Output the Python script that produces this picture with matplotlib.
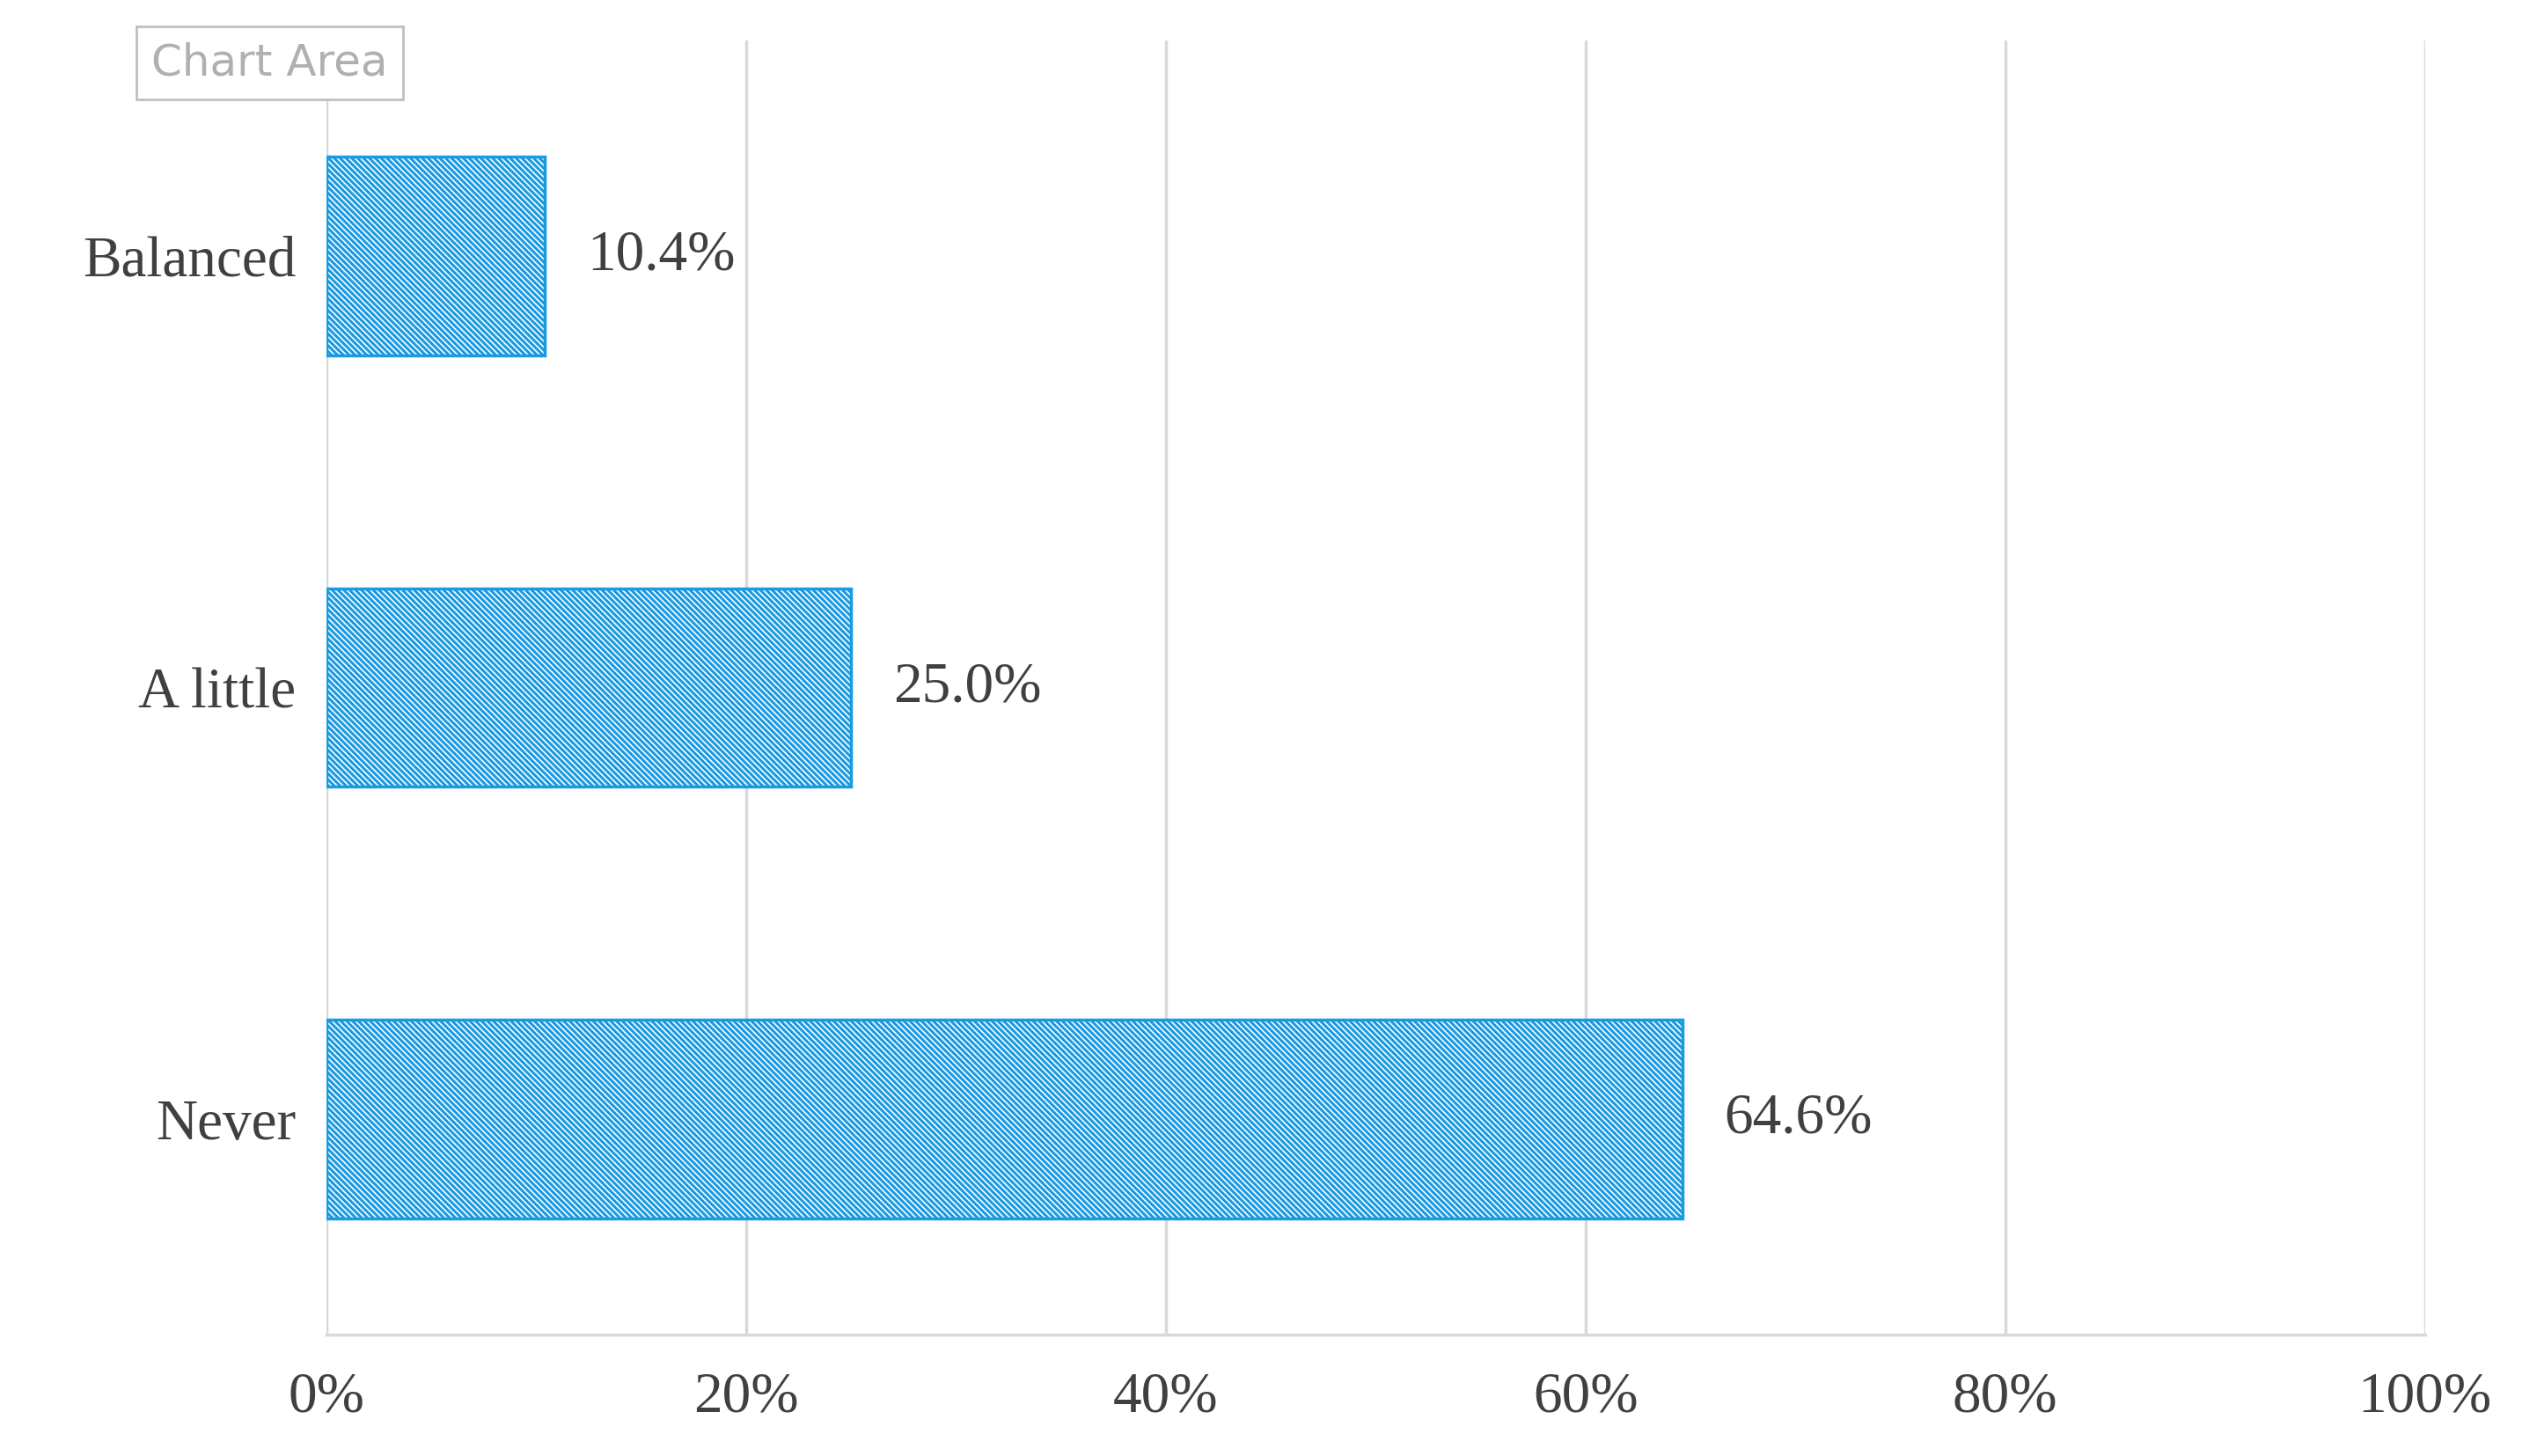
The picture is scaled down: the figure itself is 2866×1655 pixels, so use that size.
import matplotlib
matplotlib.use("Agg")
import matplotlib.pyplot as plt

categories = ["Never", "A little", "Balanced"]
values = [64.6, 25.0, 10.4]
xticks = [0, 20, 40, 60, 80, 100]

blue = "#1a9ae0"
plt.rcParams['font.family'] = ['Liberation Serif', 'DejaVu Serif']
plt.rcParams['hatch.linewidth'] = 2.2
plt.rcParams['hatch.color'] = blue

fig = plt.figure(figsize=(28.66, 16.55), dpi=100)
ax = fig.add_axes([0.1295, 0.0833, 0.832, 0.889])

bars = ax.barh(range(len(categories)), values, height=0.46, color="white",
               edgecolor=blue, hatch="\\\\\\\\\\", linewidth=2.5)
for b, v in zip(bars, values):
    ax.text(v + 2.0, b.get_y() + b.get_height() / 2, f"{v:.1f}%",
            va="center", ha="left", fontsize=47, color="#404040")

ax.set_xlim(0, 100)
ax.set_ylim(-0.5, 2.5)
ax.set_xticks(xticks)
ax.set_xticklabels([f"{t}%" for t in xticks], fontsize=47, color="#404040")
ax.set_yticks(range(len(categories)))
ax.set_yticklabels(categories, fontsize=47, color="#404040")
ax.tick_params(length=0, pad=25)
ax.tick_params(axis="x", pad=30)
ax.grid(axis="x", color="#d9d9d9", linewidth=2.5)
ax.set_axisbelow(True)
for s in ["top", "right", "left"]:
    ax.spines[s].set_visible(False)
ax.spines["bottom"].set_color("#d9d9d9")
ax.spines["bottom"].set_linewidth(2.5)

fig.text(0.107, 0.957, "Chart Area", fontsize=36, color="#b0b0b0", ha="center", va="center",
         family=["DejaVu Sans"],
         bbox=dict(boxstyle="square,pad=0.35", fc="white", ec="#c0c0c0", lw=2))

fig.savefig("out.png", dpi=100)
